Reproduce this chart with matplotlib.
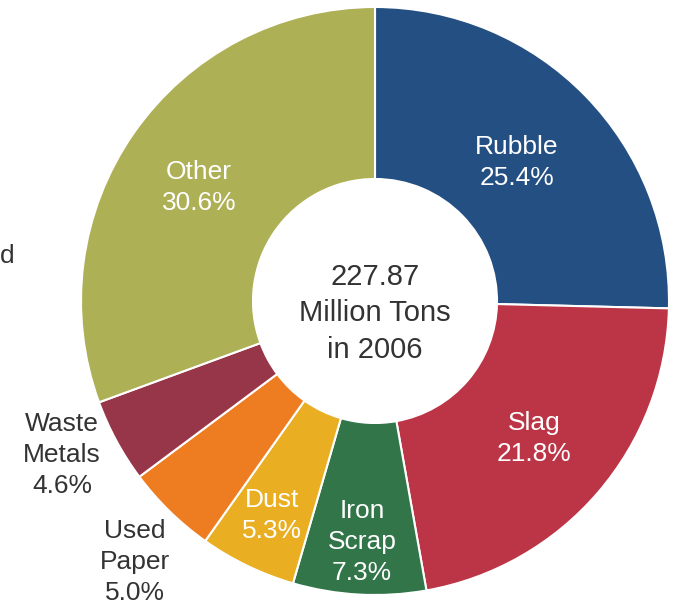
import numpy as np
import matplotlib
matplotlib.use("Agg")
import matplotlib.pyplot as plt

plt.rcParams['font.family'] = ['Liberation Sans', 'DejaVu Sans']

categories = ["Rubble", "Slag", "Iron\nScrap", "Dust", "Used\nPaper", "Waste\nMetals", "Other"]
shares = [25.4, 21.8, 7.3, 5.3, 5.0, 4.6, 30.6]
colors = ["#244F83", "#BC3547", "#317549", "#E9AE22", "#EE7C21", "#983649", "#AEB056"]
# label placement: distance from centre (in pie radii) and angular nudge (degrees)
label_radius = [0.675, 0.715, 0.82, 0.81, 1.206, 1.186, 0.713]
label_nudge = [0.0, 0.0, 0.0, 0.0, 1.7, -2.2, 2.0]
label_inside = [True, True, True, True, False, False, True]
total_text = "227.87\nMillion Tons\nin 2006"

fig = plt.figure(figsize=(6.81, 6.06), dpi=100)
ax = fig.add_axes([0, 0, 1, 1])

wedges, _ = ax.pie(shares, colors=colors, startangle=90, counterclock=False,
                   radius=1.0,
                   wedgeprops=dict(width=1.0 - 0.415, edgecolor="white", linewidth=1.5))

for w, name, val, r, nudge, inside in zip(wedges, categories, shares, label_radius,
                                          label_nudge, label_inside):
    mid = np.deg2rad((w.theta1 + w.theta2) / 2 + nudge)
    x, y = r * np.cos(mid), r * np.sin(mid)
    ax.text(x, y, f"{name}\n{val:.1f}%", ha="center", va="center",
            fontsize=19, color="white" if inside else "#333333", linespacing=1.37)

ax.text(0, -0.042, total_text, ha="center", va="center", fontsize=21,
        color="#333333", linespacing=1.4)

fig.text(0.0, 0.578, "d", ha="left", va="center", fontsize=19, color="#333333")

ax.set_xlim(-375 / 294, (681 - 375) / 294)
ax.set_ylim(-(606 - 301) / 294, 301 / 294)
ax.set_aspect("auto")
ax.axis("off")

fig.savefig("out.png", dpi=100, facecolor="white")
